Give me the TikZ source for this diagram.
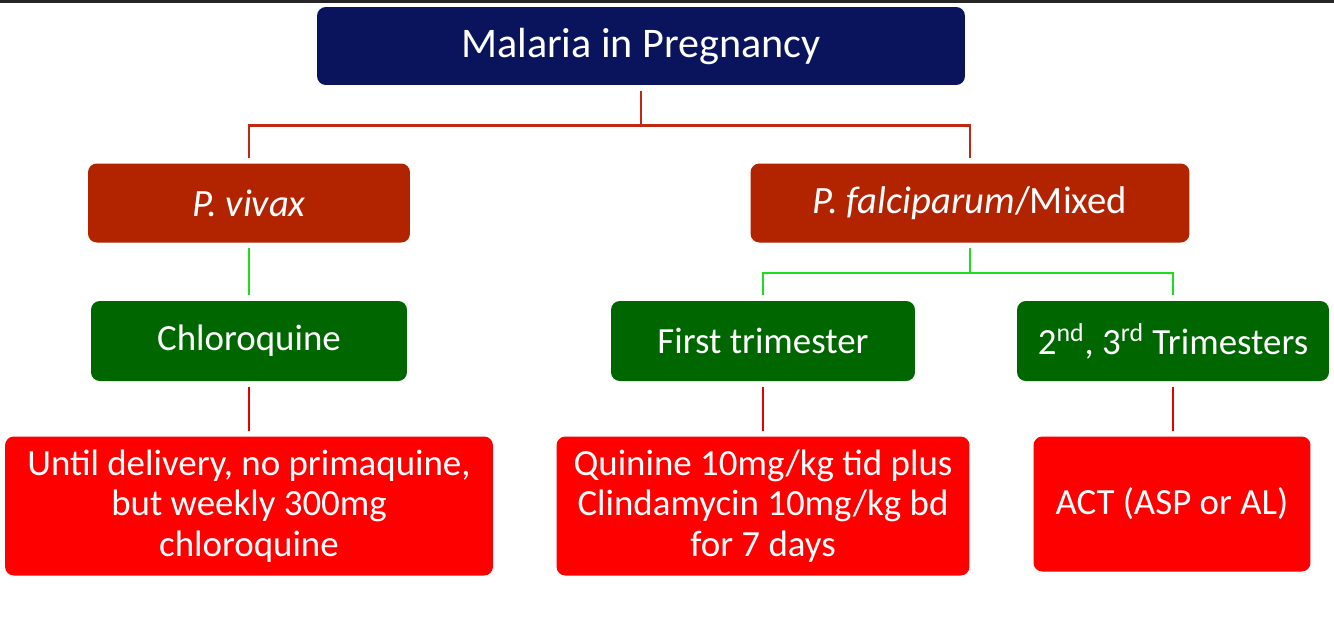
\documentclass[tikz,border=0pt]{standalone}
\usepackage{fontspec}
\setmainfont{Carlito}
\usepackage{tikz}
\definecolor{navybox}{RGB}{10,20,92}
\definecolor{rustbox}{RGB}{178,36,0}
\definecolor{greenbox}{RGB}{0,102,0}
\definecolor{redbox}{RGB}{255,0,0}
\definecolor{rustline}{RGB}{192,40,20}
\definecolor{greenline}{RGB}{30,220,30}
\definecolor{redline}{RGB}{230,0,0}

\begin{document}
\begin{tikzpicture}[x=0.02cm, y=-0.02cm,
    box/.style={rounded corners=5pt, text=white, align=center, inner sep=0pt},
    titlebox/.style={box, fill=navybox, minimum width=12.96cm, minimum height=1.56cm, font=\fontsize{24}{28}\selectfont},
    speciesbox/.style={box, fill=rustbox, minimum height=1.58cm, font=\fontsize{22}{26}\selectfont},
    stagebox/.style={box, fill=greenbox, minimum height=1.6cm, font=\fontsize{21}{26}\selectfont},
    drugbox/.style={box, fill=redbox, font=\fontsize{21}{23}\selectfont},
    link/.style={line width=1.5pt}]
    \useasboundingbox (0,0) rectangle (1334,623);
    \fill[black!85] (0,0) rectangle (1334,3);
    \node[titlebox] (top) at (641,46) {Malaria in Pregnancy};
    \node[speciesbox, minimum width=6.44cm] (viv) at (249,203) {\textit{P. vivax}};
    \node[speciesbox, minimum width=8.78cm] (fal) at (970,203) {\textit{P. falciparum}/Mixed};
    \node[stagebox, minimum width=6.32cm] (chl) at (249,341) {Chloroquine};
    \node[stagebox, minimum width=6.08cm] (tri1) at (763,341) {First trimester};
    \node[stagebox, minimum width=6.24cm] (tri23) at (1173,341) {2\textsuperscript{nd}, 3\textsuperscript{rd} Trimesters};
    \node[drugbox, minimum width=9.76cm, minimum height=2.78cm] (chlrx) at (249,506)
        {Until delivery, no primaquine,\\ but weekly 300mg\\ chloroquine};
    \node[drugbox, minimum width=8.26cm, minimum height=2.78cm] (qrx) at (763,506)
        {Quinine 10mg/kg tid plus\\ Clindamycin 10mg/kg bd\\ for 7 days};
    \node[drugbox, minimum width=5.54cm, minimum height=2.7cm] (act) at (1172,504) {ACT (ASP or AL)};
    % connectors
    \draw[link, rustline] ([yshift=-3pt]top.south) -- ++(0,35) -| ([yshift=3pt]viv.north);
    \draw[link, rustline] ([yshift=-3pt]top.south) -- ++(0,35) -| ([yshift=3pt]fal.north);
    \draw[link, greenline] ([yshift=-3pt]viv.south) -- ([yshift=3pt]chl.north);
    \draw[link, greenline] ([yshift=-3pt]fal.south) -- ++(0,25) -| ([yshift=3pt]tri1.north);
    \draw[link, greenline] ([yshift=-3pt]fal.south) -- ++(0,25) -| ([yshift=3pt]tri23.north);
    \draw[link, redline] ([yshift=-3pt]chl.south) -- ([yshift=3pt]chlrx.north);
    \draw[link, redline] ([yshift=-3pt]tri1.south) -- ([yshift=3pt]qrx.north);
    \draw[link, redline] ([yshift=-3pt]tri23.south) -- ([yshift=3pt]tri23.south |- act.north);
\end{tikzpicture}
\end{document}
